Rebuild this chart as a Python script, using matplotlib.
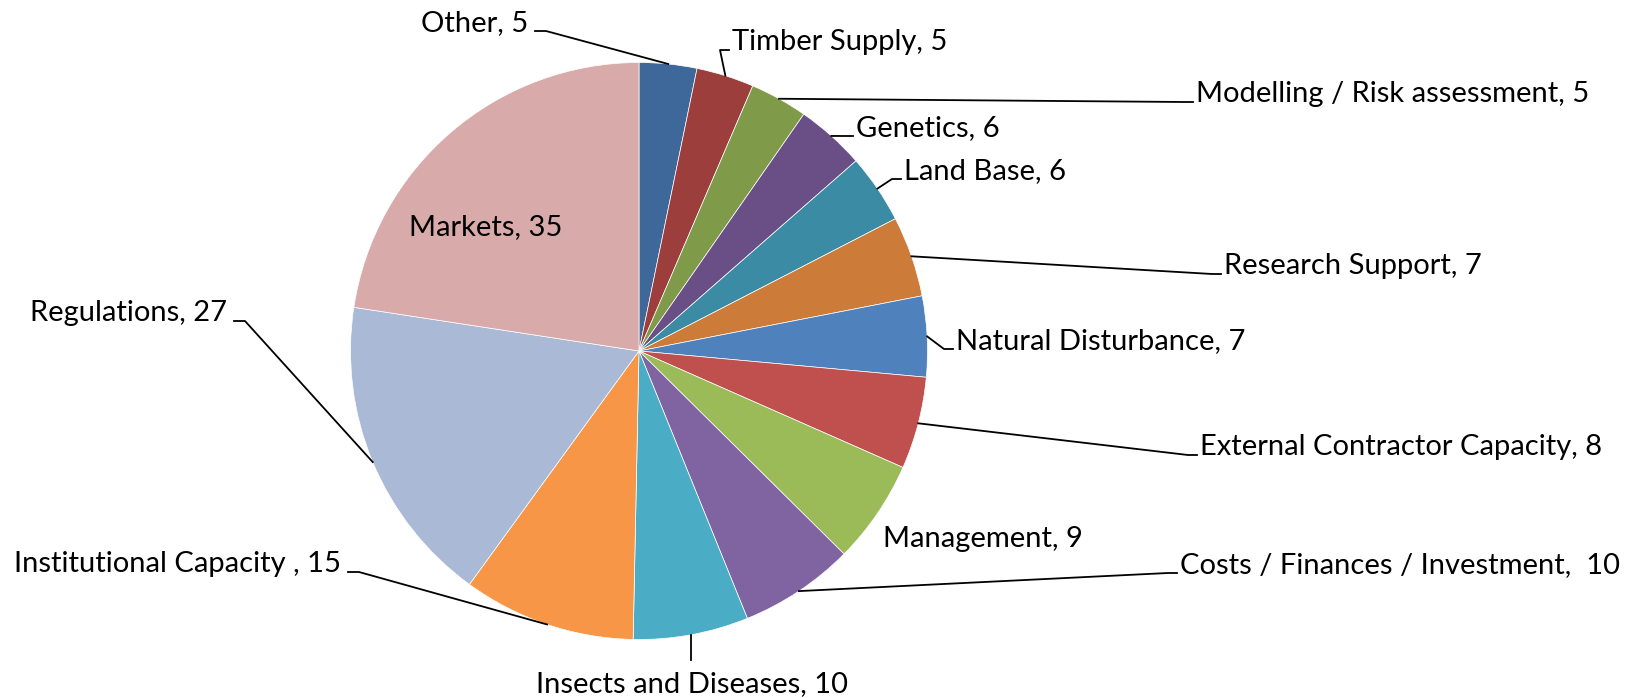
import numpy as np
import matplotlib.pyplot as plt

# data, clockwise from 12 o'clock
labels = ['Other', 'Timber Supply', 'Modelling / Risk assessment', 'Genetics',
          'Land Base', 'Research Support', 'Natural Disturbance',
          'External Contractor Capacity', 'Management',
          'Costs / Finances / Investment', 'Insects and Diseases',
          'Institutional Capacity ', 'Regulations', 'Markets']
values = [5, 5, 5, 6, 6, 7, 7, 8, 9, 10, 10, 15, 27, 35]
sep = [', '] * 14
sep[9] = ',  '

colors = ['#3F689A', '#9B3E3C', '#7F9A48', '#6A4F86', '#3A8BA3', '#CC7B38',
          '#4F81BD', '#C0504D', '#9BBB59', '#8064A2', '#4BACC6', '#F79646',
          '#AAB9D6', '#D9AAAA']

# label layout in pixels (x, baseline y from top, placement)
lab_pos = [(528, 31, 'left'), (732, 50, 'right'), (1196, 102, 'right'),
           (856, 136, 'right'), (904, 179, 'right'), (1224, 274, 'right'),
           (956, 349, 'right'), (1200, 455, 'right'), (883, 547, 'none'),
           (1180, 573, 'right'), (692, 692, 'below'), (341, 572, 'left'),
           (227, 321, 'left'), (486, 235, 'inside')]

W, H = 1633, 698
cx, cy, R = 639, 351, 288.5

plt.rcParams['font.family'] = ['Lato', 'DejaVu Sans']

fig = plt.figure(figsize=(W / 100, H / 100), dpi=100)
ax = fig.add_axes([0, 0, 1, 1])

wedges, _ = ax.pie(values, colors=colors, startangle=90, counterclock=False,
                   center=(cx, H - cy), radius=R,
                   wedgeprops=dict(edgecolor='white', linewidth=0.5))
ax.set_xlim(0, W)
ax.set_ylim(0, H)
ax.set_aspect('equal')
ax.axis('off')

fs = 21
lw = 1.3
for w, lab, v, s, (x, yb, side) in zip(wedges, labels, values, sep, lab_pos):
    txt = lab + s + str(v)
    y = H - yb
    mid = np.deg2rad((w.theta1 + w.theta2) / 2)
    ax0 = cx + R * np.cos(mid)
    ay0 = H - cy + R * np.sin(mid)
    if side == 'inside' or side == 'none':
        ax.text(x, y, txt, ha='center' if side == 'inside' else 'left',
                va='baseline', fontsize=fs)
        continue
    if side == 'right':
        ax.text(x, y, txt, ha='left', va='baseline', fontsize=fs)
        ax.plot([ax0, x - 12, x - 3], [ay0, y, y], color='black', lw=lw)
    elif side == 'left':
        ax.text(x, y, txt, ha='right', va='baseline', fontsize=fs)
        ax.plot([ax0, x + 18, x + 7], [ay0, y, y], color='black', lw=lw)
    else:
        ax.text(x, y, txt, ha='center', va='baseline', fontsize=fs)
        ax.plot([ax0, ax0], [ay0, y + 32], color='black', lw=lw)

fig.savefig('out.png', dpi=100)
